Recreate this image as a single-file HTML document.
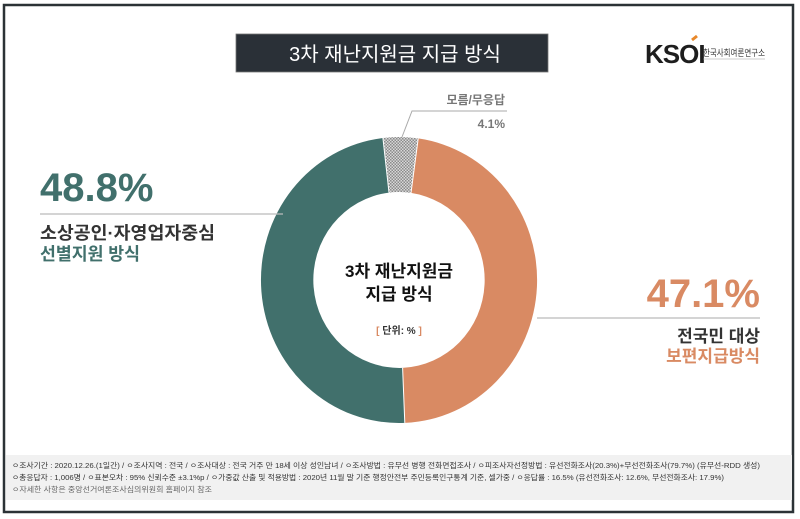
<!DOCTYPE html>
<html><head><meta charset="utf-8"><style>
html,body{margin:0;padding:0;background:#fff;}
svg{display:block;font-family:"Liberation Sans","Noto Sans CJK KR",sans-serif;}
</style></head><body>
<svg width="800" height="519" viewBox="0 0 800 519" xmlns="http://www.w3.org/2000/svg">
<defs>
<pattern id="chk" width="3" height="3" patternUnits="userSpaceOnUse">
<rect width="3" height="3" fill="#d8d8d8"/><rect width="1.5" height="1.5" fill="#8a8a8a"/><rect x="1.5" y="1.5" width="1.5" height="1.5" fill="#8a8a8a"/>
</pattern>
</defs>
<rect x="0" y="0" width="800" height="519" fill="#fff"/>
<rect x="4" y="5" width="789" height="507" fill="none" stroke="#2b3236" stroke-width="2.5"/>
<rect x="236" y="34" width="312" height="38" fill="#2a3037" stroke="#777" stroke-width="0.8"/>
<text x="395" y="61" text-anchor="middle" font-size="20" fill="#fff">3차 재난지원금 지급 방식</text>
<text x="645" y="63" font-size="26" font-weight="bold" fill="#1e1e1e" letter-spacing="-1">KSOI</text>
<line x1="692" y1="40" x2="697" y2="36" stroke="#e8882a" stroke-width="3"/>
<text x="703" y="56" font-size="9" fill="#333" textLength="62" lengthAdjust="spacingAndGlyphs">한국사회여론연구소</text>
<line x1="703" y1="59" x2="765" y2="59" stroke="#999" stroke-width="0.6"/>
<path d="M418.2,138.4 A138,143 0 0 1 404.8,422.9 L402.6,367.9 A86,88 0 0 0 411.0,192.9 Z" fill="#d98a63"/>
<path d="M404.8,422.9 A138,143 0 0 1 382.9,138.0 L389.0,192.6 A86,88 0 0 0 402.6,367.9 Z" fill="#41706c"/>
<path d="M382.9,138.0 A138,143 0 0 1 418.2,138.4 L411.0,192.9 A86,88 0 0 0 389.0,192.6 Z" fill="url(#chk)"/>
<path d="M418.2,138.4 L411.0,192.9 M404.8,422.9 L402.6,367.9 M382.9,138.0 L389.0,192.6" stroke="#fff" stroke-width="1"/>
<text x="399" y="277" text-anchor="middle" font-size="17" font-weight="bold" fill="#111">3차 재난지원금</text>
<text x="399" y="300" text-anchor="middle" font-size="17" font-weight="bold" fill="#111">지급 방식</text>
<text x="399" y="334" text-anchor="middle" font-size="10" font-weight="bold" fill="#333"><tspan fill="#d98a63">[</tspan> 단위: % <tspan fill="#d98a63">]</tspan></text>
<polyline points="402,137 412,111 507,111" fill="none" stroke="#aaa" stroke-width="1"/>
<text x="505" y="104" text-anchor="end" font-size="12" font-weight="bold" fill="#777">모름/무응답</text>
<text x="505" y="128" text-anchor="end" font-size="12" font-weight="bold" fill="#777">4.1%</text>
<text x="40" y="201" font-size="40" font-weight="bold" fill="#41706c">48.8%</text>
<line x1="40" y1="214" x2="283" y2="214" stroke="#bbb" stroke-width="1.2"/>
<text x="40" y="239" font-size="17.5" font-weight="bold" fill="#333" textLength="175" lengthAdjust="spacingAndGlyphs">소상공인·자영업자중심</text>
<text x="40" y="260" font-size="17.5" font-weight="bold" fill="#41706c" textLength="100" lengthAdjust="spacingAndGlyphs">선별지원 방식</text>
<text x="760" y="307" text-anchor="end" font-size="40" font-weight="bold" fill="#d98a63">47.1%</text>
<line x1="537" y1="318" x2="760" y2="318" stroke="#bbb" stroke-width="1.2"/>
<text x="760" y="342" text-anchor="end" font-size="17" font-weight="bold" fill="#333">전국민 대상</text>
<text x="760" y="362" text-anchor="end" font-size="17" font-weight="bold" fill="#d98a63">보편지급방식</text>
<rect x="6" y="455" width="786" height="45" fill="#f1f1f1"/>
<text x="12" y="468" font-size="7.5" fill="#333" textLength="748" lengthAdjust="spacingAndGlyphs">ㅇ조사기간 : 2020.12.26.(1일간)   / ㅇ조사지역 : 전국 / ㅇ조사대상 : 전국 거주 만 18세 이상 성인남녀 / ㅇ조사방법 : 유무선 병행 전화면접조사 / ㅇ피조사자선정방법 : 유선전화조사(20.3%)+무선전화조사(79.7%)  (유무선-RDD 생성)</text>
<text x="12" y="480" font-size="7.5" fill="#333" textLength="712" lengthAdjust="spacingAndGlyphs">ㅇ총응답자 : 1,006명 / ㅇ표본오차 : 95% 신뢰수준 ±3.1%p / ㅇ가중값 산출 및 적용방법 : 2020년 11월 말 기준 행정안전부 주민등록인구통계 기준, 셀가중 / ㅇ응답률 : 16.5% (유선전화조사: 12.6%, 무선전화조사: 17.9%)</text>
<text x="12" y="492" font-size="7.5" fill="#666" textLength="200" lengthAdjust="spacingAndGlyphs">ㅇ자세한 사항은 중앙선거여론조사심의위원회 홈페이지 참조</text>
</svg>
</body></html>
